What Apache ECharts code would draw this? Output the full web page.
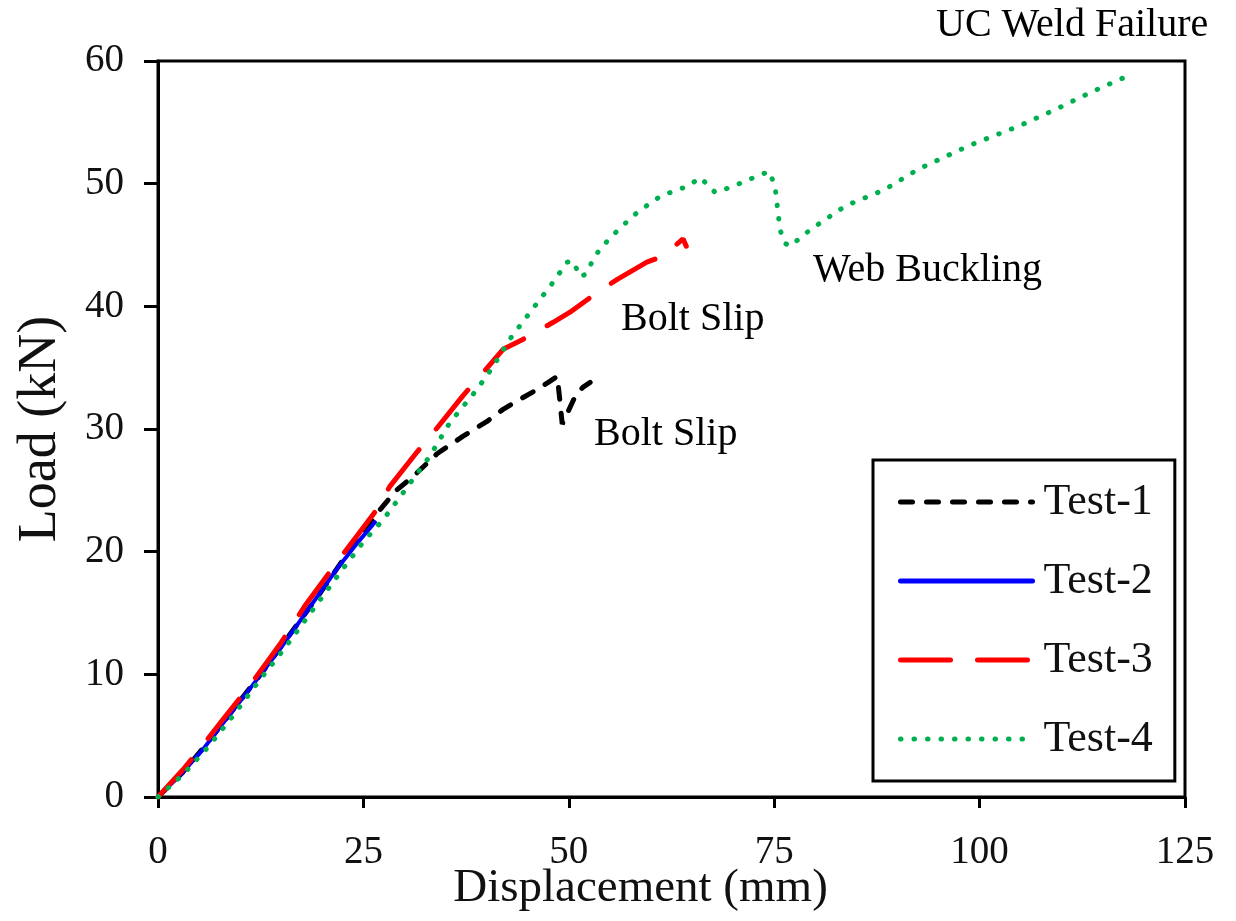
<!DOCTYPE html>
<html>
<head>
<meta charset="utf-8">
<script src="https://cdn.jsdelivr.net/npm/echarts@6/dist/echarts.min.js"></script>
<style>html,body{margin:0;padding:0;background:#fff}#c{width:1236px;height:921px}</style>
</head>
<body>
<div id="c"></div>
<script>
var seriesNames = ['Test-1', 'Test-2', 'Test-3', 'Test-4'];
var xTicks = [0, 25, 50, 75, 100, 125];
var yTicks = [0, 10, 20, 30, 40, 50, 60];

var test1 = [[0,0],[3,2.0],[6,4.4],[9,7.0],[12.5,10.0],[16,13.2],[19.5,16.4],[23,19.8],[25.5,22.0],[27,23.4],[29,25.0],[31,26.1],[34,28.0],[37.1,29.4],[40,30.6],[42,31.6],[44,32.4],[46.1,33.2],[47.5,33.8],[48.6,34.3],[48.9,32.4],[49.2,30.4],[49.9,31.4],[50.8,32.7],[51.7,33.4],[52.6,33.8]];
var test2 = [[0,0],[3,2.0],[5.5,3.9],[8,6.1],[11.5,9.1],[15,12.2],[18.5,15.5],[22,18.8],[24.5,20.9],[26.4,22.4]];
var test3 = [[0,0],[3,2.2],[5.1,3.9],[8,6.4],[11.2,9.1],[15,12.6],[18,15.7],[21.3,18.7],[24,21.1],[26.7,23.5],[28.2,25.3],[31.5,28.1],[33.5,29.7],[37.1,32.7],[38.8,34.0],[42,36.5],[44.4,37.3],[48.1,38.7],[50.1,39.5],[53.4,41.1],[55.9,42.2],[59.5,43.6],[61.5,44.1],[63.9,45.5],[64.3,44.9]];
var test4 = [[0,0],[3,1.8],[6,4.0],[9,6.5],[12,9.2],[15.5,12.2],[19,15.4],[22.5,18.6],[25,20.8],[27.4,22.6],[29.5,24.5],[33.1,27.8],[35.5,30.5],[38.8,33.2],[40.8,35.1],[42.8,37.3],[45.6,39.8],[47.7,41.6],[49.8,43.6],[50.5,43.7],[51.4,42.4],[52.0,42.6],[52.9,43.7],[53.8,44.7],[56.1,46.3],[58.4,47.7],[61.2,49.0],[64.5,49.8],[66.0,50.5],[67.8,49.3],[69.7,49.7],[72.5,50.5],[74.4,51.0],[75.1,49.8],[75.3,48.6],[75.7,46.3],[76.2,45.2],[76.9,44.9],[79.5,46.3],[83.7,48.2],[88.4,49.5],[92.6,51.2],[98.7,53.1],[104.8,54.7],[109.4,56.1],[113.7,57.5],[118.1,58.8]];

var annotations = [
  {text: 'UC Weld Failure', x: 936, y: 28},
  {text: 'Web Buckling', x: 813, y: 273},
  {text: 'Bolt Slip', x: 621, y: 322},
  {text: 'Bolt Slip', x: 594, y: 437}
];

var FONT = '"Liberation Serif", "Times New Roman", serif';
var chart = echarts.init(document.getElementById('c'));

chart.setOption({
  animation: false,
  backgroundColor: '#fff',
  grid: {left: 158, right: 51, top: 61, bottom: 124, outerBoundsMode: 'none', containLabel: false,
    show: true, borderColor: '#000', borderWidth: 3, backgroundColor: 'transparent'},
  xAxis: {
    type: 'value', min: xTicks[0], max: xTicks[xTicks.length-1], interval: 25,
    name: 'Displacement (mm)', nameLocation: 'middle', nameGap: 68, nameMoveOverlap: false,
    nameTextStyle: {fontFamily: FONT, fontSize: 47, color: '#111', padding: [0, 62, 0, 0]},
    axisLine: {show: true, lineStyle: {color: '#000', width: 3}},
    axisTick: {show: true, inside: false, length: 11, lineStyle: {color: '#000', width: 3}},
    axisLabel: {margin: 36, fontFamily: FONT, fontSize: 39, color: '#111'},
    splitLine: {show: false}
  },
  yAxis: {
    type: 'value', min: yTicks[0], max: yTicks[yTicks.length-1], interval: 10,
    name: 'Load (kN)', nameLocation: 'middle', nameGap: 90,
    nameTextStyle: {fontFamily: FONT, fontSize: 54, color: '#111'},
    axisLine: {show: true, lineStyle: {color: '#000', width: 3}},
    axisTick: {show: true, inside: false, length: 14, lineStyle: {color: '#000', width: 3}},
    axisLabel: {margin: 34, fontFamily: FONT, fontSize: 39, color: '#111'},
    splitLine: {show: false}
  },
  legend: {
    orient: 'vertical', left: 873, top: 460,
    padding: [19, 22, 19, 25],
    itemWidth: 132, itemHeight: 14, itemGap: 33,
    borderColor: '#000', borderWidth: 3, backgroundColor: '#fff',
    textStyle: {fontFamily: FONT, fontSize: 44, color: '#111', lineHeight: 46, padding: [0,0,0,6]},
    lineStyle: {width: 5},
    itemStyle: {opacity: 0, color: 'rgba(0,0,0,0)', borderWidth: 0},
    data: seriesNames
  },
  graphic: annotations.map(function (a) {
    return {type: 'text', left: a.x, top: a.y - 23, z: 100,
      style: {text: a.text, font: '40px ' + FONT, fill: '#000'}};
  }),
  series: [
    {name: seriesNames[0], type: 'line', data: test1, symbol: 'none', z: 2,
      lineStyle: {color: '#000', width: 5, type: [12, 14], cap: 'round'}, itemStyle: {color: '#000'}},
    {name: seriesNames[1], type: 'line', data: test2, symbol: 'none', z: 3,
      lineStyle: {color: '#0000ff', width: 4, type: 'solid', cap: 'round'}, itemStyle: {color: '#0000ff'}},
    {name: seriesNames[2], type: 'line', data: test3, symbol: 'none', z: 4,
      lineStyle: {color: '#ff0000', width: 5, type: [50, 27], cap: 'round'}, itemStyle: {color: '#ff0000'}},
    {name: seriesNames[3], type: 'line', data: test4, symbol: 'none', z: 5,
      lineStyle: {color: '#00b050', width: 5, type: [0.5, 13], cap: 'round'}, itemStyle: {color: '#00b050'}}
  ]
});
</script>
</body>
</html>
